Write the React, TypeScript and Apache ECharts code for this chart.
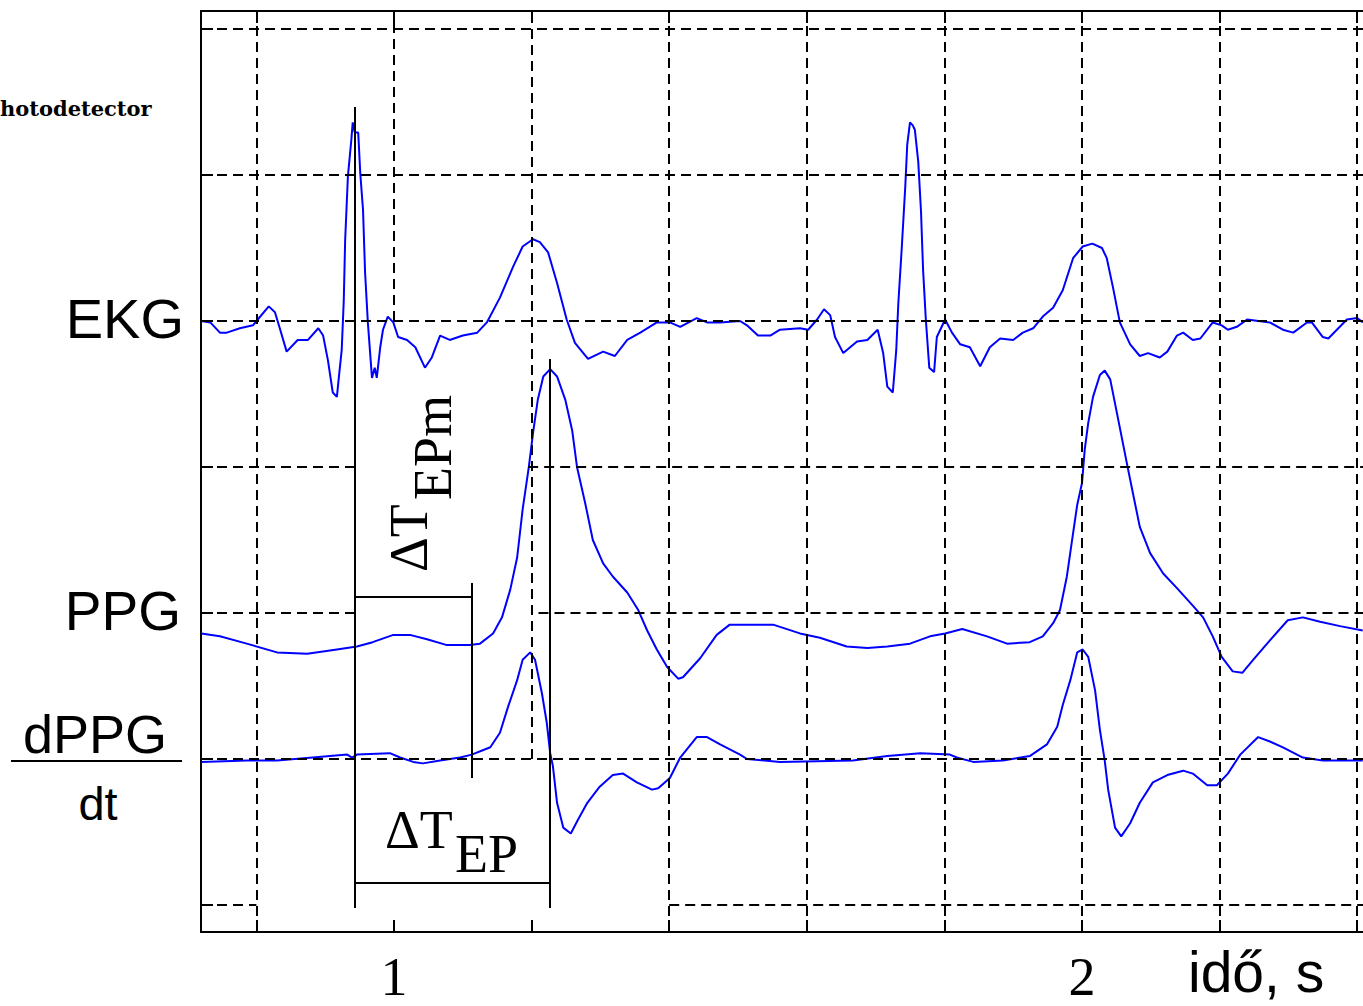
import React, { useEffect, useRef } from "react";
import * as echarts from "echarts";

// ---- axis extents (time in s, amplitude in grid divisions) ----
const T_MIN = 0.7195;
const T_MAX = 2.4084;
const V_MIN = -0.185;
const V_MAX = 6.123;

const xTicks = [0.8, 1.0, 1.2, 1.4, 1.6, 1.8, 2.0, 2.2, 2.4];
const xLabels = [1, 2];
const yTicks = [0, 1, 2, 3, 4, 5, 6];

// dashed grid lines: [x, yFrom, yTo] and [y, xFrom, xTo]
const vGrid = [
  [0.8, V_MIN, V_MAX], [1.0, 4, V_MAX], [1.2, 1, V_MAX], [1.4, V_MIN, V_MAX],
  [1.6, V_MIN, V_MAX], [1.8, V_MIN, V_MAX], [2.0, V_MIN, V_MAX], [2.2, V_MIN, V_MAX], [2.4, V_MIN, V_MAX],
];
const hGrid = [
  [0, T_MIN, 0.8], [0, 1.4, T_MAX], [1, T_MIN, T_MAX],
  [2, T_MIN, 0.9433], [2, 1.21, T_MAX], [3, T_MIN, 0.9433], [3, 1.195, T_MAX],
  [4, T_MIN, T_MAX], [5, T_MIN, T_MAX], [6, T_MIN, T_MAX],
];

// annotation brackets: [[t1, v1], [t2, v2]]
const brackets = [
  [[0.9433, 5.466], [0.9433, -0.02]],
  [[1.1134, 2.205], [1.1134, 0.87]],
  [[0.9433, 2.11], [1.1134, 2.11]],
  [[1.2267, 3.74], [1.2267, -0.02]],
  [[0.9433, 0.151], [1.2267, 0.151]],
];

const ekg = [[0.720,4.00],[0.733,3.99],[0.747,3.92],[0.757,3.92],[0.776,3.95],[0.795,3.97],[0.802,4.01],[0.818,4.10],[0.827,4.06],[0.834,3.95],[0.844,3.79],[0.860,3.87],[0.875,3.87],[0.890,3.95],[0.897,3.90],[0.904,3.73],[0.911,3.51],[0.917,3.48],[0.920,3.62],[0.924,3.80],[0.927,4.14],[0.929,4.55],[0.933,4.99],[0.938,5.24],[0.940,5.36],[0.943,5.29],[0.948,5.29],[0.951,5.01],[0.955,4.76],[0.958,4.33],[0.962,3.99],[0.968,3.61],[0.972,3.68],[0.975,3.61],[0.980,3.82],[0.984,3.94],[0.991,4.03],[0.999,3.99],[1.006,3.89],[1.019,3.87],[1.031,3.82],[1.045,3.68],[1.055,3.75],[1.067,3.90],[1.081,3.87],[1.100,3.90],[1.121,3.92],[1.135,3.99],[1.154,4.16],[1.173,4.37],[1.187,4.51],[1.202,4.56],[1.212,4.54],[1.224,4.47],[1.237,4.26],[1.251,4.01],[1.263,3.85],[1.282,3.74],[1.304,3.79],[1.321,3.76],[1.339,3.87],[1.358,3.92],[1.382,3.99],[1.401,3.99],[1.416,3.96],[1.440,4.02],[1.455,3.99],[1.474,3.99],[1.503,4.00],[1.513,3.97],[1.529,3.90],[1.547,3.90],[1.561,3.94],[1.590,3.95],[1.602,3.94],[1.615,4.01],[1.625,4.08],[1.634,4.04],[1.641,3.89],[1.653,3.78],[1.673,3.86],[1.688,3.87],[1.703,3.94],[1.711,3.78],[1.717,3.55],[1.725,3.51],[1.730,3.80],[1.733,4.12],[1.738,4.50],[1.743,4.91],[1.746,5.21],[1.750,5.36],[1.754,5.34],[1.757,5.31],[1.762,5.09],[1.766,4.75],[1.769,4.35],[1.773,4.01],[1.778,3.68],[1.785,3.65],[1.789,3.89],[1.801,4.01],[1.811,3.92],[1.823,3.84],[1.837,3.82],[1.852,3.69],[1.866,3.82],[1.881,3.88],[1.900,3.87],[1.914,3.92],[1.929,3.95],[1.943,4.03],[1.958,4.09],[1.972,4.21],[1.987,4.43],[2.001,4.51],[2.015,4.53],[2.029,4.50],[2.036,4.43],[2.045,4.23],[2.055,3.99],[2.070,3.84],[2.084,3.76],[2.096,3.78],[2.113,3.75],[2.124,3.79],[2.138,3.90],[2.147,3.92],[2.161,3.87],[2.172,3.88],[2.190,3.99],[2.203,3.97],[2.212,3.94],[2.225,3.96],[2.240,4.01],[2.273,3.99],[2.292,3.94],[2.307,3.92],[2.327,3.99],[2.334,3.99],[2.350,3.89],[2.358,3.88],[2.385,4.01],[2.400,4.02],[2.408,3.99]];

const ppg = [[0.720,1.86],[0.747,1.84],[0.786,1.79],[0.830,1.73],[0.874,1.72],[0.917,1.75],[0.946,1.77],[0.969,1.80],[0.999,1.85],[1.023,1.85],[1.048,1.82],[1.077,1.78],[1.110,1.78],[1.125,1.79],[1.144,1.86],[1.157,1.97],[1.169,2.16],[1.179,2.38],[1.187,2.71],[1.196,3.00],[1.202,3.23],[1.209,3.46],[1.217,3.62],[1.227,3.67],[1.237,3.62],[1.249,3.46],[1.259,3.25],[1.266,3.00],[1.278,2.75],[1.289,2.50],[1.304,2.34],[1.318,2.25],[1.339,2.14],[1.355,2.02],[1.368,1.88],[1.382,1.75],[1.397,1.63],[1.413,1.55],[1.420,1.56],[1.445,1.69],[1.469,1.85],[1.488,1.92],[1.522,1.92],[1.551,1.92],[1.590,1.86],[1.619,1.83],[1.658,1.77],[1.688,1.76],[1.717,1.77],[1.750,1.79],[1.779,1.84],[1.801,1.86],[1.826,1.89],[1.862,1.84],[1.891,1.79],[1.924,1.80],[1.943,1.84],[1.958,1.93],[1.968,2.02],[1.978,2.25],[1.985,2.48],[1.993,2.74],[2.000,2.89],[2.004,3.12],[2.009,3.30],[2.016,3.48],[2.026,3.63],[2.033,3.66],[2.041,3.60],[2.052,3.34],[2.065,3.03],[2.074,2.82],[2.084,2.59],[2.099,2.41],[2.118,2.27],[2.138,2.17],[2.161,2.05],[2.176,1.97],[2.190,1.84],[2.203,1.70],[2.219,1.60],[2.233,1.59],[2.249,1.68],[2.269,1.79],[2.299,1.95],[2.321,1.97],[2.346,1.94],[2.375,1.91],[2.408,1.88]];

const dppg = [[0.720,0.98],[0.786,0.99],[0.830,0.99],[0.882,1.01],[0.932,1.03],[0.939,1.01],[0.946,1.03],[0.994,1.04],[1.009,1.01],[1.028,0.98],[1.042,0.97],[1.067,0.99],[1.096,1.01],[1.113,1.03],[1.129,1.06],[1.140,1.08],[1.154,1.18],[1.166,1.36],[1.179,1.54],[1.187,1.68],[1.198,1.73],[1.205,1.68],[1.215,1.45],[1.222,1.25],[1.227,1.04],[1.231,0.95],[1.237,0.70],[1.246,0.53],[1.257,0.49],[1.267,0.58],[1.281,0.70],[1.299,0.81],[1.318,0.89],[1.333,0.90],[1.353,0.84],[1.375,0.79],[1.384,0.80],[1.401,0.87],[1.416,1.01],[1.440,1.15],[1.455,1.15],[1.474,1.10],[1.503,1.03],[1.513,1.00],[1.561,0.98],[1.667,0.99],[1.717,1.02],[1.765,1.04],[1.808,1.03],[1.818,1.01],[1.842,0.98],[1.885,0.99],[1.924,1.02],[1.949,1.10],[1.964,1.22],[1.972,1.37],[1.983,1.54],[1.993,1.73],[2.001,1.75],[2.009,1.70],[2.019,1.47],[2.026,1.20],[2.033,0.99],[2.038,0.79],[2.048,0.53],[2.057,0.47],[2.070,0.56],[2.084,0.70],[2.103,0.84],[2.124,0.89],[2.147,0.92],[2.161,0.90],[2.182,0.82],[2.196,0.82],[2.212,0.90],[2.230,1.03],[2.256,1.15],[2.273,1.12],[2.292,1.08],[2.321,1.01],[2.350,0.99],[2.408,0.99]];

const SANS = '"Liberation Sans", Arial, sans-serif';
const SERIF = '"Liberation Serif", "Times New Roman", serif';
const BLUE = "#0000ff";
const BLACK = "#000000";

function txt(x: number, y: number, text: string, font: string, align = "left", lineHeight?: number) {
  const style: any = { text, font, fill: BLACK, textAlign: align, textBaseline: "middle", verticalAlign: "middle" };
  if (lineHeight) style.lineHeight = lineHeight;
  return { type: "text", x, y, silent: true, style };
}

export default function App() {
  const ref = useRef<HTMLDivElement>(null);
  useEffect(() => {
    if (!ref.current) return;
    const chart = echarts.init(ref.current, null, { renderer: "svg" });
    const tickStyle = { show: true, inside: true, length: 12, lineStyle: { color: BLACK, width: 2 } };
    const curve = (name: string, data: number[][]) => ({
      name,
      type: "line",
      data,
      showSymbol: false,
      symbol: "none",
      z: 3,
      silent: true,
      lineStyle: { color: BLUE, width: 2 },
    });
    const option: any = {
      animation: false,
      backgroundColor: "#ffffff",
      grid: { left: 201, top: 11, width: 1162, height: 921, containLabel: false },
      xAxis: [
        {
          type: "value", min: T_MIN, max: T_MAX, position: "bottom",
          axisLine: { show: true, onZero: false, lineStyle: { color: BLACK, width: 2 } },
          axisTick: { ...tickStyle, customValues: xTicks },
          axisLabel: {
            show: true, customValues: xLabels, margin: 18, color: BLACK,
            fontFamily: SERIF, fontSize: 54, formatter: (v: number) => String(v),
          },
          splitLine: { show: false },
        },
        {
          type: "value", min: T_MIN, max: T_MAX, position: "top",
          axisLine: { show: true, onZero: false, lineStyle: { color: BLACK, width: 2 } },
          axisTick: { ...tickStyle, customValues: xTicks },
          axisLabel: { show: false },
          splitLine: { show: false },
        },
      ],
      yAxis: {
        type: "value", min: V_MIN, max: V_MAX,
        axisLine: { show: true, onZero: false, lineStyle: { color: BLACK, width: 2 } },
        axisTick: { ...tickStyle, customValues: yTicks },
        axisLabel: { show: false },
        splitLine: { show: false },
      },
      series: [
        {
          name: "grid",
          type: "line",
          data: [],
          z: 1,
          silent: true,
          markLine: {
            silent: true,
            symbol: ["none", "none"],
            label: { show: false },
            animation: false,
            lineStyle: { color: BLACK, width: 2, type: [10, 6] },
            emphasis: { disabled: true },
            data: [
              ...vGrid.map(([x, a, b]) => [{ coord: [x, a] }, { coord: [x, b] }]),
              ...hGrid.map(([y, a, b]) => [{ coord: [a, y] }, { coord: [b, y] }]),
            ],
          },
        },
        curve("EKG", ekg),
        curve("PPG", ppg),
        curve("dPPG", dppg),
        {
          name: "brackets",
          type: "line",
          data: [],
          z: 4,
          silent: true,
          markLine: {
            silent: true,
            symbol: ["none", "none"],
            label: { show: false },
            animation: false,
            lineStyle: { color: BLACK, width: 2, type: "solid" },
            emphasis: { disabled: true },
            data: brackets.map(([p, q]) => [{ coord: p }, { coord: q }]),
          },
        },
      ],
      graphic: [
        txt(0, 108, "hotodetector", 'bold 21px "DejaVu Serif", serif'),
        txt(184, 318.5, "EKG", `56px ${SANS}`, "right"),
        txt(181, 611, "PPG", `55px ${SANS}`, "right"),
        txt(95, 734, "dPPG", `54px ${SANS}`, "center"),
        { type: "line", silent: true, shape: { x1: 11, y1: 761, x2: 182, y2: 761 }, style: { stroke: BLACK, lineWidth: 2 } },
        txt(98, 803.5, "dt", `47px ${SANS}`, "center"),
        txt(385, 829.5, "ΔT", `54px ${SERIF}`),
        txt(455, 853.5, "EP", `54px ${SERIF}`),
        {
          type: "group",
          x: 409,
          y: 572,
          rotation: Math.PI / 2,
          silent: true,
          children: [
            txt(0, 0, "ΔT", `54px ${SERIF}`),
            txt(72, 24, "EPm", `54px ${SERIF}`),
          ],
        },
        txt(1188, 972, "idő, s", `57px ${SANS}`, "left", 48),
      ],
    };
    chart.setOption(option);
    return () => chart.dispose();
  }, []);
  return (
    <div
      ref={ref}
      style={{ position: "fixed", left: 0, top: 0, width: 1363, height: 1006, background: "#fff" }}
    />
  );
}
